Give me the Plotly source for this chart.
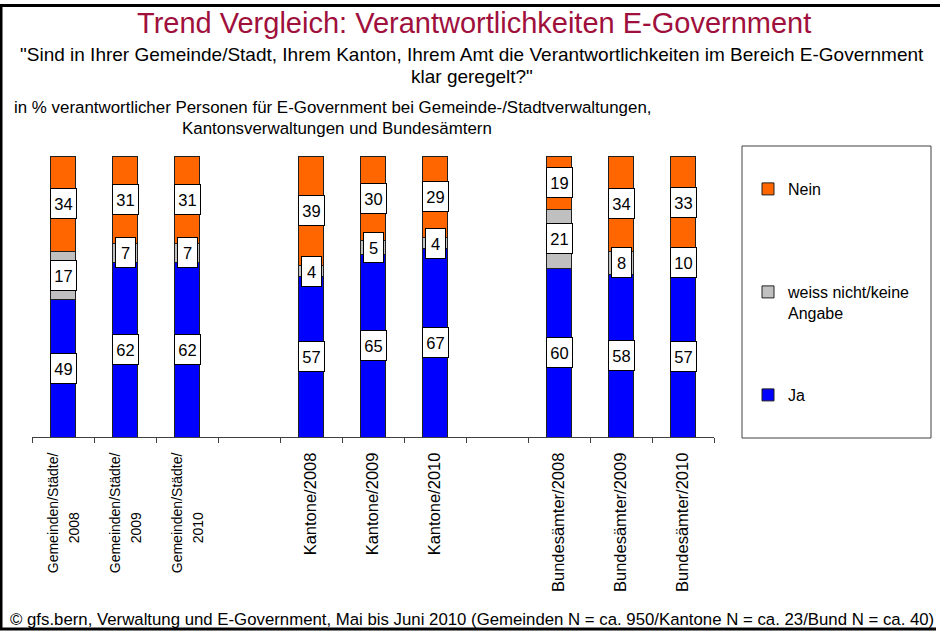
import plotly.graph_objects as go

# ---------------- data ----------------
years = ["2008", "2009", "2010"]
gem_labels = ["<span style='font-size:14px'>Gemeinden/Städte/</span><br><span style='font-size:14px'>"
              + y + "</span>" + "\u00a0" * 13 for y in years]
kan_labels = ["Kantone/" + y for y in years]
bund_labels = ["Bundesämter/" + y for y in years]
categories = gem_labels + [" "] + kan_labels + ["  "] + bund_labels

ja = [49, 62, 62, None, 57, 65, 67, None, 60, 58, 57]
weiss = [17, 7, 7, None, 4, 5, 4, None, 21, 8, 10]
nein = [34, 31, 31, None, 39, 30, 29, None, 19, 34, 33]
series_names = ["Ja", "weiss nicht/keine<br>Angabe", "Nein"]
series_values = [ja, weiss, nein]
series_colors = ["#0000FF", "#C0C0C0", "#FF6600"]

title_text = "Trend Vergleich: Verantwortlichkeiten E-Government"
question_lines = [
    "\"Sind in Ihrer Gemeinde/Stadt, Ihrem Kanton, Ihrem Amt die Verantwortlichkeiten im Bereich E-Government",
    "klar geregelt?\"",
]
desc_lines = [
    "in % verantwortlicher Personen für E-Government bei Gemeinde-/Stadtverwaltungen,",
    "Kantonsverwaltungen und Bundesämtern",
]
footer_text = ("© gfs.bern, Verwaltung und E-Government, Mai bis Juni 2010 "
               "(Gemeinden N = ca. 950/Kantone N = ca. 23/Bund N = ca. 40)")

# ---------------- layout helpers ----------------
W, H = 940, 631
L, R, T, B = 32, 714, 156, 437  # plot-area pixel edges
FONT = "Liberation Sans, Arial, sans-serif"


def px(x):
    return (x - L) / (R - L)


def py(y):
    return (B - y) / (B - T)


fig = go.Figure()

legend_ids = ["legend3", "legend2", "legend"]   # Ja bottom, weiss middle, Nein top
legend_tops = [378, 275, 172]
for name, vals, col, lid in zip(series_names, series_values, series_colors, legend_ids):
    fig.add_bar(
        x=categories, y=vals, name=name, width=0.4,
        marker=dict(color=col, line=dict(color="#202020", width=1)),
        legend=lid,
    )

# value labels in white boxes
for i, cat in enumerate(categories):
    base = 0
    for vals in series_values:
        v = vals[i]
        if v is None:
            continue
        fig.add_annotation(
            x=cat, y=base + v / 2, xref="x", yref="y", text=str(v),
            showarrow=False, bgcolor="white", bordercolor="black",
            borderwidth=1, borderpad=1, width=23 if v >= 10 else 17, height=27,
            font=dict(size=16.5, color="black", family=FONT),
        )
        base += v

# texts
fig.add_annotation(x=px(474), y=py(23), xref="paper", yref="paper", text=title_text,
                   showarrow=False, xanchor="center", yanchor="middle",
                   font=dict(size=29, color="#A0103C", family=FONT))
for t, yy in zip(question_lines, [55, 77]):
    fig.add_annotation(x=px(472), y=py(yy), xref="paper", yref="paper", text=t,
                       showarrow=False, xanchor="center", yanchor="middle",
                       font=dict(size=19, color="black", family=FONT))
for t, xx, yy in zip(desc_lines, [12, 180], [107, 128]):
    fig.add_annotation(x=px(xx), y=py(yy), xref="paper", yref="paper", text=t,
                       showarrow=False, xanchor="left", yanchor="middle",
                       font=dict(size=16.9, color="black", family=FONT))
fig.add_annotation(x=px(8), y=py(619), xref="paper", yref="paper", text=footer_text,
                   showarrow=False, xanchor="left", yanchor="middle",
                   font=dict(size=16.8, color="black", family=FONT))

# frame and legend box
frame = dict(color="black", width=3)
fig.add_shape(type="line", xref="paper", yref="paper", x0=px(0), x1=px(940), y0=py(5.5), y1=py(5.5), line=frame)
fig.add_shape(type="line", xref="paper", yref="paper", x0=px(1), x1=px(1), y0=py(5), y1=py(629), line=frame)
fig.add_shape(type="line", xref="paper", yref="paper", x0=px(0), x1=px(936), y0=py(629), y1=py(629), line=frame)
fig.add_shape(type="rect", xref="paper", yref="paper", x0=px(742), x1=px(931), y0=py(438), y1=py(146),
              line=dict(color="#404040", width=1), fillcolor="rgba(0,0,0,0)")

legend_style = dict(xanchor="left", yanchor="top", font=dict(size=16, family=FONT),
                    valign="top", bgcolor="rgba(0,0,0,0)", borderwidth=0)
legends = {lid: dict(x=px(748), y=py(top), **legend_style) for lid, top in zip(legend_ids, legend_tops)}

fig.update_layout(
    width=W, height=H,
    margin=dict(l=L, r=W - R, t=T, b=H - B, autoexpand=False),
    barmode="stack",
    plot_bgcolor="white", paper_bgcolor="white",
    font=dict(family=FONT, color="black"),
    showlegend=True,
    xaxis=dict(
        type="category", categoryorder="array", categoryarray=categories,
        range=[-0.5, 10.5], tickson="boundaries", ticks="outside", ticklen=5,
        tickcolor="#404040", showline=True, linecolor="#404040", linewidth=1,
        tickangle=-90, tickfont=dict(size=16.5, family=FONT), showgrid=False,
        zeroline=False, ticklabelstandoff=8,
    ),
    yaxis=dict(range=[0, 100], visible=False),
    **legends,
)

fig.write_html("out.html", config={"displayModeBar": False},
               post_script="document.body.style.margin='0';")
